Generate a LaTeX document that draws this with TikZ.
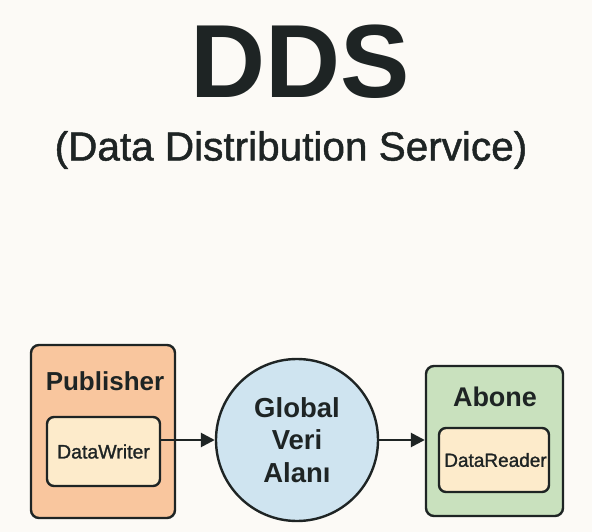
\documentclass[tikz,border=0pt]{standalone}
\usepackage{fontspec}
\setmainfont{Liberation Sans}
\newfontfamily\medfont[FakeBold=1.2]{Liberation Sans}
\usetikzlibrary{arrows.meta}
\definecolor{ink}{HTML}{1E2424}
\definecolor{paper}{HTML}{FCFAF6}
\definecolor{pubfill}{HTML}{F9C69E}
\definecolor{subfill}{HTML}{C9E1BE}
\definecolor{innerfill}{HTML}{FDEBCB}
\definecolor{globfill}{HTML}{CFE4F0}

\begin{document}
\begin{tikzpicture}[x=1pt, y=-1pt,
    outerbox/.style={draw=ink, line width=2.4pt, rounded corners=8pt, inner sep=0pt},
    innerbox/.style={draw=ink, line width=2.4pt, fill=innerfill, rounded corners=7pt, inner sep=0pt},
    boxtitle/.style={text=ink, font=\bfseries\fontsize{26}{26}\selectfont, inner sep=0pt},
    boxtext/.style={text=ink, font=\medfont\fontsize{19.5}{19.5}\selectfont, inner sep=0pt},
    flow/.style={draw=ink, line width=2.6pt, -{Triangle[length=14pt, width=14pt]}}]
    % Arka plan
    \useasboundingbox (0,0) rectangle (592,532);
    \fill[paper] (0,0) rectangle (592,532);

    % Baslik
    \node[text=ink, font=\bfseries\fontsize{104}{104}\selectfont, inner sep=0pt]
        (title) at (300,62) {DDS};
    \node[text=ink, font=\medfont\fontsize{40.5}{40.5}\selectfont, inner sep=0pt]
        (subtitle) at (291,150) {(Data Distribution Service)};

    % Publisher
    \node[outerbox, fill=pubfill, minimum width=144pt, minimum height=173pt]
        (pub) at (103,431.5) {};
    \node[boxtitle] (pubtitle) at (105,381) {Publisher};
    \node[innerbox, minimum width=113pt, minimum height=69pt]
        (dw) at (103.5,451.5) {};
    \node[boxtext] (dwtext) at (103.5,451.5) {DataWriter};

    % Global veri alani
    \node[circle, draw=ink, line width=2.4pt, fill=globfill, minimum size=162pt,
        inner sep=0pt, text=ink, align=center,
        font=\bfseries\fontsize{27.5}{32.5}\selectfont]
        (glob) at (297,440) {Global\\Veri\\Alanı};

    % Abone
    \node[outerbox, fill=subfill, minimum width=137pt, minimum height=150pt]
        (sub) at (494.5,441) {};
    \node[boxtitle, font=\bfseries\fontsize{27}{27}\selectfont] (subtitle2) at (495,397) {Abone};
    \node[innerbox, minimum width=110pt, minimum height=64pt]
        (dr) at (494,460) {};
    \node[boxtext, font=\medfont\fontsize{19}{19}\selectfont] (drtext) at (495.5,460) {DataReader};

    % Oklar
    \draw[flow] (dw.east |- glob) -- (glob.west);
    \draw[flow] (glob.east) -- (sub.west |- glob);
\end{tikzpicture}
\end{document}
